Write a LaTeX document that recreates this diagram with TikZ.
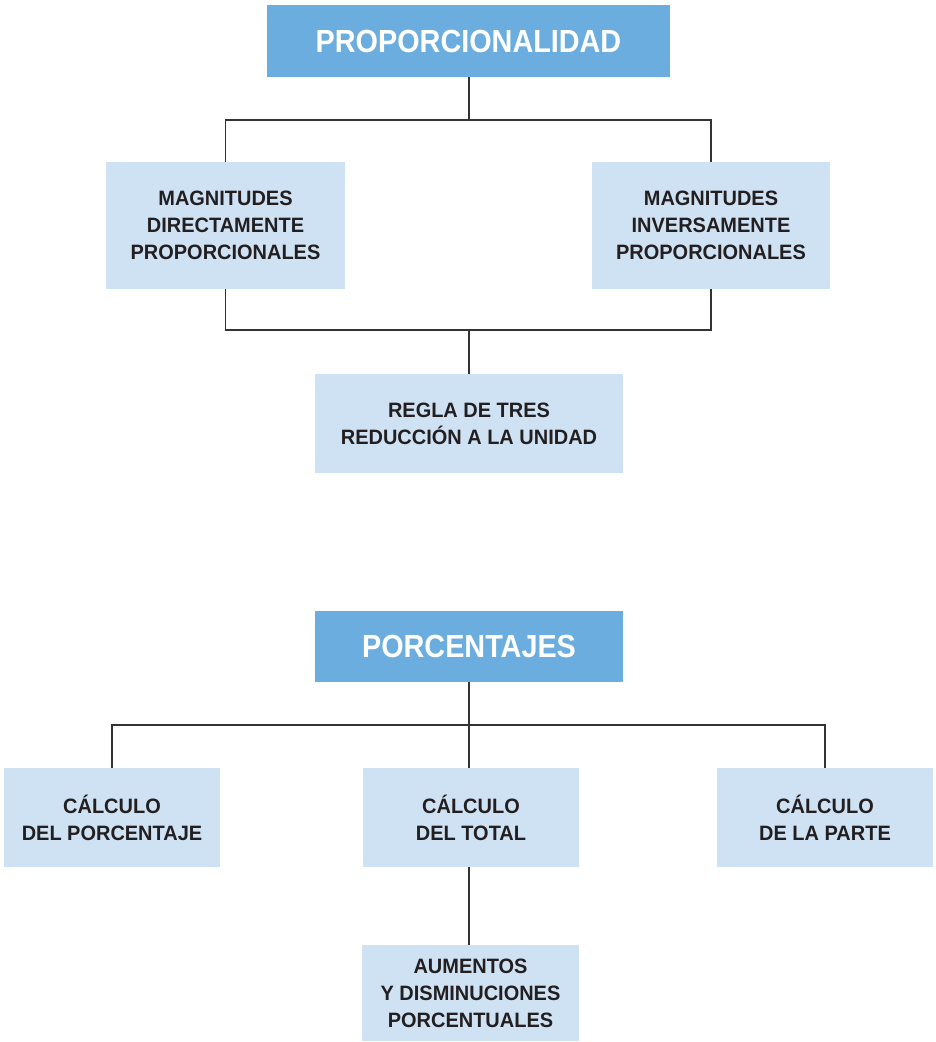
\documentclass[tikz,border=0pt]{standalone}
\usepackage{fontspec}
\setmainfont{Liberation Sans}
\newfontfamily\headfont[FakeStretch=0.9]{Liberation Sans}
\newfontfamily\boxfont[FakeStretch=0.96]{Liberation Sans}
\definecolor{headblue}{HTML}{6AADDE}
\definecolor{paleblue}{HTML}{CFE2F3}
\definecolor{inkdark}{HTML}{231F20}
\definecolor{linegrey}{HTML}{333333}
\tikzset{
  headbox/.style={fill=headblue, text=white, inner sep=0pt, align=center,
    font=\headfont\bfseries\fontsize{32}{36}\selectfont},
  subbox/.style={fill=paleblue, text=inkdark, inner sep=0pt, align=center,
    font=\boxfont\bfseries\fontsize{20.8}{27}\selectfont},
  link/.style={draw=linegrey, line width=1.4pt}
}
\begin{document}
\begin{tikzpicture}[x=1pt,y=-1pt]
\useasboundingbox (0,0) rectangle (935,1042);

% upper tree
\node[headbox, minimum width=403pt, minimum height=72pt] (prop) at (468.5,41) {PROPORCIONALIDAD};
\node[subbox, minimum width=239pt, minimum height=127pt] (dir) at (225.5,225.5) {MAGNITUDES\\DIRECTAMENTE\\PROPORCIONALES};
\node[subbox, minimum width=238pt, minimum height=127pt] (inv) at (711,225.5) {MAGNITUDES\\INVERSAMENTE\\PROPORCIONALES};
\node[subbox, minimum width=308pt, minimum height=99pt] (regla) at (469,423.5) {REGLA DE TRES\\REDUCCIÓN A LA UNIDAD};

\coordinate (busA) at (469,120);
\coordinate (busB) at (469,330);
\draw[link] (prop.south -| busA) -- (busA);
\draw[link] (dir.north) |- (busA) -| (inv.north);
\draw[link] (dir.south) |- (busB) -| (inv.south);
\draw[link] (busB) -- (regla.north);

% lower tree
\node[headbox, minimum width=308pt, minimum height=71pt] (porc) at (469,646.5) {PORCENTAJES};
\node[subbox, minimum width=216pt, minimum height=99pt] (cpor) at (112,817.5) {CÁLCULO\\DEL PORCENTAJE};
\node[subbox, minimum width=216pt, minimum height=99pt] (ctot) at (471,817.5) {CÁLCULO\\DEL TOTAL};
\node[subbox, minimum width=216pt, minimum height=99pt] (cpar) at (825,817.5) {CÁLCULO\\DE LA PARTE};
\node[subbox, minimum width=217pt, minimum height=96pt] (aum) at (470.5,993) {AUMENTOS\\Y DISMINUCIONES\\PORCENTUALES};

\coordinate (busC) at (469,725);
\coordinate (ctTop) at (469,768);
\coordinate (ctBot) at (469,867);
\draw[link] (porc.south) -- (ctTop);
\draw[link] (cpor.north) |- (busC) -| (cpar.north);
\draw[link] (ctBot) -- (aum.north -| ctBot);
\end{tikzpicture}
\end{document}
